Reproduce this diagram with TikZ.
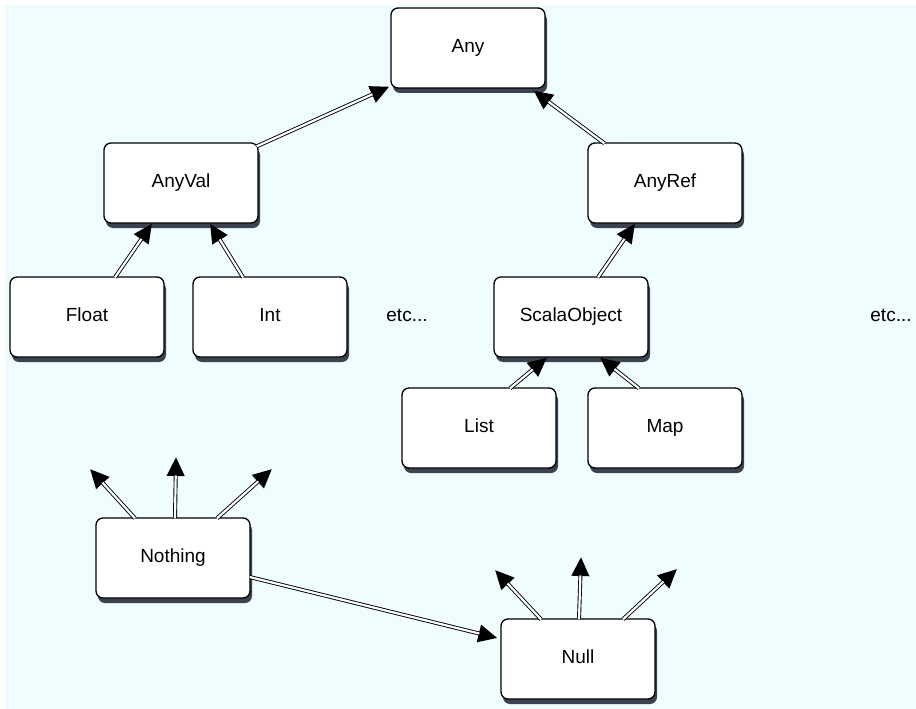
\documentclass[tikz,border=0pt]{standalone}
\usepackage{fontspec}
\setmainfont{Liberation Sans}
\usetikzlibrary{arrows.meta,shadows,calc}
\definecolor{bgc}{HTML}{EFFDFE}
\definecolor{shadowc}{HTML}{3C4250}
\begin{document}
\begin{tikzpicture}[x=1pt,y=-1pt,
  box/.style={rectangle, rounded corners=7pt, draw=black, line width=1.3pt, fill=white,
    minimum width=154pt, minimum height=80pt, inner sep=0pt,
    text height=13.5pt, text depth=4pt,
    font=\fontsize{19}{22}\selectfont,
    drop shadow={shadow xshift=2pt, shadow yshift=-5pt, fill=shadowc, opacity=1}},
  lbl/.style={font=\fontsize{19}{22}\selectfont, inner sep=0pt, text height=13.5pt, text depth=4pt},
  inh/.style={draw=black, line width=4pt, -{Triangle[length=19pt,width=17pt]},
    postaction={draw=white, line width=2.2pt, -, shorten >=18.5pt}}]
\useasboundingbox (0,0) rectangle (916,709);
\fill[bgc] (5,5) rectangle (916,709);

\node[box] (any) at (468,48) {Any};
\node[box] (anyval) at (181,183) {AnyVal};
\node[box] (anyref) at (665,183) {AnyRef};
\node[box] (float) at (87,317) {Float};
\node[box] (int) at (270,317) {Int};
\node[lbl] (etc1) at (407,317) {etc...};
\node[box] (scala) at (571,317) {ScalaObject};
\node[lbl] (etc2) at (891,317) {etc...};
\node[box] (list) at (479,428) {List};
\node[box] (map) at (665,428) {Map};
\node[box] (nothing) at (173,558) {Nothing};
\node[box] (null) at (578,659) {Null};

\coordinate (n1) at (90,469);
\coordinate (n2) at (176,457);
\coordinate (n3) at (272,469);
\coordinate (u1) at (495,570);
\coordinate (u2) at (581,557);
\coordinate (u3) at (677,569);

\draw[inh] ($(anyval.north east)+(-2,4)$) -- ($(any.south west)+(-1,-2)$);
\draw[inh] ($(anyref.north west)+(17,1)$) -- ($(any.south east)+(-12,2)$);
\draw[inh] ($(float.north)+(28,1)$) -- ($(anyval.south)+(-29,0)$);
\draw[inh] ($(int.north)+(-27,1)$) -- ($(anyval.south)+(29,0)$);
\draw[inh] ($(scala.north)+(27,1)$) -- ($(anyref.south)+(-30,0)$);
\draw[inh] ($(list.north)+(31,1)$) -- ($(scala.south)+(-24,0)$);
\draw[inh] ($(map.north)+(-26,1)$) -- ($(scala.south)+(29,0)$);
\draw[inh] ($(nothing.east)+(-1,19)$) -- ($(null.west)+(-3,-21)$);
\draw[inh] ($(nothing.north)+(-38,1)$) -- (n1);
\draw[inh] ($(nothing.north)+(2,1)$) -- (n2);
\draw[inh] ($(nothing.north)+(44,1)$) -- (n3);
\draw[inh] ($(null.north)+(-37,1)$) -- (u1);
\draw[inh] ($(null.north)+(1,1)$) -- (u2);
\draw[inh] ($(null.north)+(45,1)$) -- (u3);
\end{tikzpicture}
\end{document}
